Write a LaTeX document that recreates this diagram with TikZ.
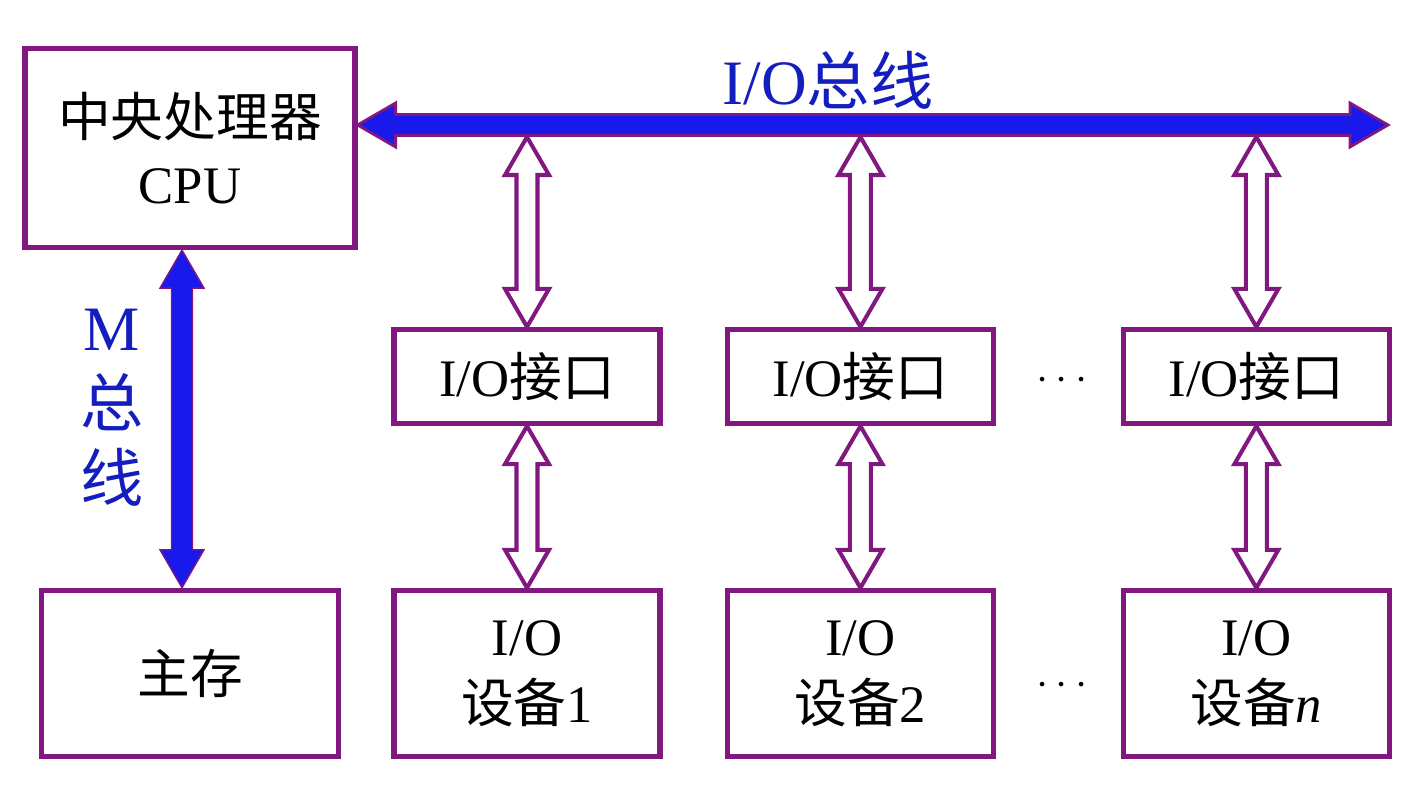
\documentclass[tikz,border=0pt]{standalone}
\usepackage{fontspec}
\setmainfont{Liberation Serif}
\newfontfamily\cjk{Noto Sans CJK SC}
\usepackage{tikz}
\usetikzlibrary{calc,positioning}

\definecolor{boxpurple}{RGB}{128,24,128}
\definecolor{busblue}{RGB}{25,25,235}
\definecolor{labelblue}{RGB}{20,30,190}

% wide double-headed arrow between two points
\newcommand{\busarrow}[3]{%
  \filldraw[#3] (#1)
    -- ($(#1)!0.76cm!(#2)!0.44cm!90:(#2)$)
    -- ($(#1)!0.76cm!(#2)!0.21cm!90:(#2)$)
    -- ($(#2)!0.76cm!(#1)!0.21cm!270:(#1)$)
    -- ($(#2)!0.76cm!(#1)!0.44cm!270:(#1)$)
    -- (#2)
    -- ($(#2)!0.76cm!(#1)!0.44cm!90:(#1)$)
    -- ($(#2)!0.76cm!(#1)!0.21cm!90:(#1)$)
    -- ($(#1)!0.76cm!(#2)!0.21cm!270:(#2)$)
    -- ($(#1)!0.76cm!(#2)!0.44cm!270:(#2)$)
    -- cycle;}

\tikzset{
  box/.style={draw=boxpurple, line width=3pt, fill=white, inner sep=0pt,
    align=center, font=\fontsize{30}{38}\selectfont},
  iface/.style={minimum width=5.32cm, minimum height=1.88cm},
  device/.style={minimum width=5.32cm, minimum height=3.32cm},
  hollow/.style={draw=boxpurple, fill=white, line width=2.3pt},
  iobus/.style={draw=boxpurple, fill=busblue, line width=1.6pt},
  mbus/.style={draw=boxpurple, fill=busblue, line width=0.8pt},
  busname/.style={text=labelblue, inner sep=0pt, font=\fontsize{36}{43}\selectfont},
}

\begin{document}
\begin{tikzpicture}[x=0.02cm, y=-0.02cm]
\useasboundingbox (0,0) rectangle (1422,793);

\node [box, minimum width=6.6cm, minimum height=3.98cm] (cpu) at (190,148) {{\cjk 中央处理器}\\CPU};
\node [box, node distance=10.51cm, below of=cpu, minimum width=5.94cm, minimum height=3.32cm] (mem) {\cjk 主存};

\node [box, iface] (if1) at (527,376.5) {I/O{\cjk 接口}};
\node [box, iface, node distance=6.67cm, right of=if1] (if2) {I/O{\cjk 接口}};
\node [box, iface, node distance=7.92cm, right of=if2] (if3) {I/O{\cjk 接口}};

\node [box, device, node distance=5.94cm, below of=if1] (dev1) {I/O\\{\cjk 设备}1};
\node [box, device, node distance=5.94cm, below of=if2] (dev2) {I/O\\{\cjk 设备}2};
\node [box, device, node distance=5.94cm, below of=if3] (dev3) {I/O\\{\cjk 设备}\textit{n}};

\node [font=\fontsize{28}{34}\selectfont] (dots1) at (1062,381) {$\cdots$};
\node [font=\fontsize{28}{34}\selectfont, node distance=6.1cm, below of=dots1] (dots2) {$\cdots$};

\node [busname] (iolabel) at (828,80) {I/O{\cjk 总线}};
\node [busname, align=center] (mlabel) at (112,408) {M\\{\cjk 总}\\{\cjk 线}};

% buses
\coordinate (busend) at (1388,125);
\coordinate (busstart) at (cpu.east |- busend);
\busarrow{busstart}{busend}{iobus}

\coordinate (mtop) at ([xshift=-0.16cm]cpu.south);
\coordinate (mbot) at (mtop |- mem.north);
\busarrow{mtop}{mbot}{mbus}

\foreach \i in {1,2,3} {
  \coordinate (tap\i) at ($(if\i.north |- busend)+(0,12)$);
  \busarrow{tap\i}{if\i.north}{hollow}
  \busarrow{if\i.south}{dev\i.north}{hollow}
}
\end{tikzpicture}
\end{document}
